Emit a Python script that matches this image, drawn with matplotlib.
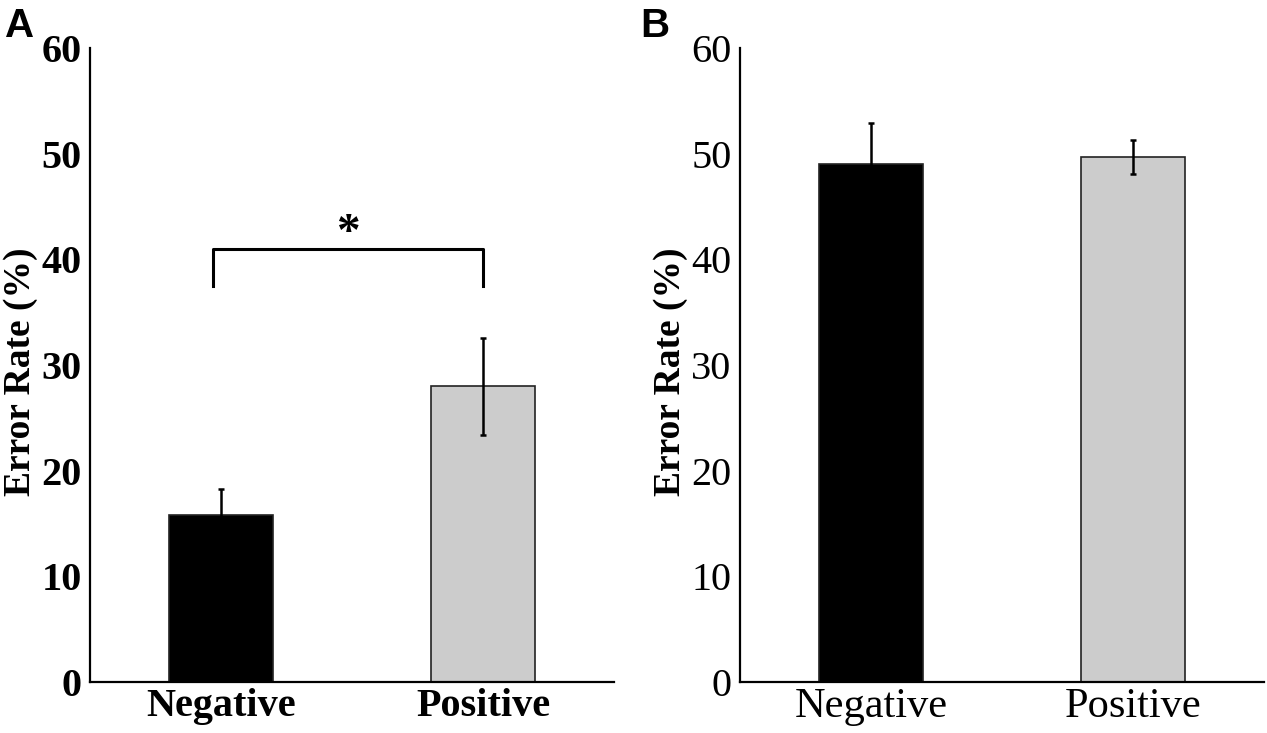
import matplotlib
matplotlib.use("Agg")
from matplotlib import pyplot as plt
import numpy as np

# data
conditions = ["Negative", "Positive"]
rate_a = [15.8, 28.0]
err_a = [2.5, 4.6]
rate_b = [49.0, 49.7]
err_b = [3.9, 1.6]
yticks = [0, 10, 20, 30, 40, 50, 60]

bar_colors = ["black", "#cccccc"]
serif = ["Liberation Serif", "DejaVu Serif"]

fig = plt.figure(figsize=(12.67, 7.33), dpi=100)
W, H = 1267.0, 733.0

def make_panel(left_px, rates, errs, tick_weight, xsize):
    ax = fig.add_axes([left_px / W, 51 / H, 524 / W, 634 / H])
    x = np.arange(len(conditions))
    ax.bar(x, rates, width=0.4, color=bar_colors, edgecolor="#222222", linewidth=1.2, zorder=2)
    ax.errorbar(x, rates, yerr=errs, fmt="none", ecolor="black", elinewidth=1.8,
                capsize=2.5, capthick=1.8, zorder=3)
    ax.set_xlim(-0.5, 1.5)
    ax.set_ylim(0, 60)
    ax.set_yticks(yticks)
    ax.set_yticklabels([str(t) for t in yticks], family=serif, fontsize=29, weight=tick_weight)
    ax.set_xticks(x)
    ax.set_xticklabels(conditions, family=serif, fontsize=xsize, weight=tick_weight)
    ax.tick_params(axis="both", length=0)
    ax.tick_params(axis="y", pad=6)
    ax.tick_params(axis="x", pad=4)
    for s in ["top", "right"]:
        ax.spines[s].set_visible(False)
    for s in ["left", "bottom"]:
        ax.spines[s].set_linewidth(1.6)
    ax.set_ylabel("Error Rate (%)", family=serif, fontsize=27, weight="bold")
    ax.yaxis.set_label_coords(-0.1, 0.49)
    return ax

ax1 = make_panel(90, rate_a, err_a, "bold", 29)
ax2 = make_panel(740, rate_b, err_b, "normal", 30.5)

# significance bracket
ax1.plot([-0.03, -0.03, 1.0, 1.0], [37.5, 41.0, 41.0, 37.5], color="black", lw=2.2)
ax1.text(0.485, 40.4, "*", ha="center", va="bottom", fontsize=34, weight="bold", family=serif)

fig.text(5 / W, 1 - 37 / H, "A", family=["Liberation Sans", "DejaVu Sans"], fontsize=29, weight="bold")
fig.text(640 / W, 1 - 37 / H, "B", family=["Liberation Sans", "DejaVu Sans"], fontsize=29, weight="bold")

fig.savefig("out.png", dpi=100)
